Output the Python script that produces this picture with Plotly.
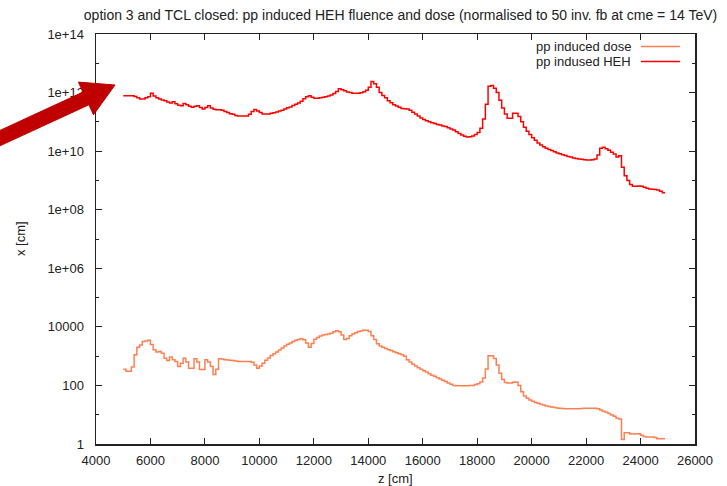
import plotly.graph_objects as go

# ---------------- data ----------------
# bin starts in cm (100 cm bins, 5000 .. 24800), last bin ends at 24900
z_bins = list(range(5000, 24900, 100))
z_end = 24900

# log10 of the plotted values
heh_log10 = [
    11.89, 11.89, 11.89, 11.89, 11.87, 11.82, 11.78, 11.78, 11.82, 11.86,
    11.98, 11.88, 11.82, 11.78, 11.75, 11.72, 11.68, 11.64, 11.69, 11.62,
    11.57, 11.55, 11.63, 11.58, 11.53, 11.50, 11.53, 11.55, 11.49, 11.44,
    11.49, 11.55, 11.47, 11.43, 11.41, 11.41, 11.40, 11.35, 11.32, 11.28,
    11.26, 11.22, 11.20, 11.20, 11.20, 11.20, 11.26, 11.35, 11.42, 11.37,
    11.32, 11.27, 11.27, 11.27, 11.29, 11.31, 11.34, 11.37, 11.40, 11.44,
    11.48, 11.51, 11.56, 11.60, 11.64, 11.70, 11.79, 11.86, 11.89, 11.84,
    11.81, 11.81, 11.82, 11.84, 11.86, 11.88, 11.92, 11.97, 12.04, 12.13,
    12.10, 12.06, 12.02, 12.00, 11.98, 11.98, 11.98, 11.99, 12.03, 12.08,
    12.18, 12.38, 12.30, 12.18, 12.00, 11.90, 11.82, 11.72, 11.65, 11.58,
    11.54, 11.50, 11.46, 11.45, 11.44, 11.40, 11.33, 11.27, 11.20, 11.13,
    11.08, 11.04, 11.00, 10.97, 10.94, 10.91, 10.89, 10.86, 10.84, 10.80,
    10.76, 10.72, 10.66, 10.60, 10.55, 10.51, 10.48, 10.49, 10.52, 10.57,
    10.64, 10.78, 11.10, 11.60, 12.22, 12.24, 12.15, 12.00, 11.74, 11.47,
    11.27, 11.12, 11.12, 11.29, 11.29, 11.18, 11.00, 10.82, 10.68, 10.57,
    10.46, 10.37, 10.28, 10.21, 10.15, 10.10, 10.06, 10.02, 9.98, 9.94,
    9.91, 9.88, 9.85, 9.82, 9.80, 9.77, 9.75, 9.73, 9.72, 9.71,
    9.70, 9.70, 9.71, 9.73, 9.87, 10.10, 10.13, 10.08, 10.03, 9.96,
    9.90, 9.80, 9.84, 9.45, 9.16, 9.00, 8.86, 8.80, 8.80, 8.81,
    8.80, 8.77, 8.73, 8.71, 8.70, 8.69, 8.67, 8.63, 8.58,
]

dose_log10 = [
    2.55, 2.48, 2.48, 2.63, 3.05, 3.30, 3.38, 3.50, 3.52, 3.54,
    3.40, 3.22, 3.14, 3.16, 3.10, 2.93, 2.85, 2.97, 2.88, 2.82,
    2.65, 2.76, 2.93, 2.80, 2.59, 2.59, 2.91, 2.80, 2.54, 2.54,
    2.88, 2.80, 2.65, 2.37, 2.55, 2.91, 2.90, 2.88, 2.87, 2.86,
    2.85, 2.83, 2.82, 2.82, 2.82, 2.82, 2.82, 2.79, 2.70, 2.59,
    2.66, 2.76, 2.86, 2.94, 3.02, 3.08, 3.14, 3.21, 3.28, 3.35,
    3.41, 3.45, 3.50, 3.54, 3.57, 3.59, 3.56, 3.45, 3.30, 3.43,
    3.58, 3.64, 3.69, 3.72, 3.74, 3.76, 3.78, 3.83, 3.87, 3.83,
    3.72, 3.57, 3.60, 3.70, 3.76, 3.80, 3.84, 3.86, 3.88, 3.88,
    3.84, 3.70, 3.57, 3.42, 3.35, 3.30, 3.26, 3.22, 3.19, 3.15,
    3.12, 3.08, 3.05, 3.00, 2.88, 2.80, 2.72, 2.66, 2.60, 2.55,
    2.50, 2.46, 2.40, 2.35, 2.31, 2.26, 2.22, 2.18, 2.13, 2.08,
    2.04, 2.00, 1.99, 1.99, 1.99, 1.99, 1.99, 2.00, 2.00, 2.03,
    2.06, 2.12, 2.25, 2.56, 3.01, 3.01, 2.92, 2.70, 2.42, 2.20,
    2.10, 2.08, 2.08, 2.11, 2.12, 2.00, 1.78, 1.64, 1.56, 1.50,
    1.46, 1.42, 1.39, 1.36, 1.33, 1.30, 1.28, 1.26, 1.25, 1.23,
    1.22, 1.21, 1.20, 1.20, 1.20, 1.20, 1.20, 1.20, 1.21, 1.22,
    1.22, 1.22, 1.22, 1.22, 1.20, 1.16, 1.12, 1.08, 1.04, 0.99,
    0.95, 0.88, 0.85, 0.15, 0.38, 0.38, 0.34, 0.34, 0.35, 0.35,
    0.30, 0.26, 0.24, 0.24, 0.24, 0.22, 0.18, 0.18, 0.18,
]

series_names = ["pp induced dose", "pp indused HEH"]
series_colors = ["#ff7f50", "#ff0000"]

x_ticks = [4000, 6000, 8000, 10000, 12000, 14000, 16000, 18000, 20000, 22000, 24000, 26000]
y_tickvals = [1, 1e2, 1e4, 1e6, 1e8, 1e10, 1e12, 1e14]
y_ticktext = ["1", "100", "10000", "1e+06", "1e+08", "1e+10", "1e+12", "1e+14"]
y_minor = [1e1, 1e3, 1e5, 1e7, 1e9, 1e11, 1e13]

title_text = "option 3 and TCL closed: pp induced HEH fluence and dose (normalised to 50 inv. fb at cme = 14 TeV)"
x_title = "z [cm]"
y_title = "x [cm]"

# ---------------- figure ----------------
W, H = 727, 486
ML, MR, MT, MB = 96, 32, 34, 42
PW, PH = W - ML - MR, H - MT - MB

def px2paper(px, py):
    return (px - ML) / PW, (H - MB - py) / PH

FONT = "Liberation Sans, Arial, sans-serif"
TXT = "#222222"

fig = go.Figure()
for name, color, vals in [(series_names[0], series_colors[0], dose_log10),
                          (series_names[1], series_colors[1], heh_log10)]:
    ys = [10 ** v for v in vals]
    fig.add_trace(go.Scatter(
        x=z_bins + [z_end], y=ys + [ys[-1]],
        mode="lines", line=dict(color=color, width=1.5, shape="hv"),
        name=name, showlegend=False, hoverinfo="skip"))

axis_common = dict(
    showline=True, linecolor="#222222", linewidth=1.5, mirror="ticks",
    ticks="inside", ticklen=6, tickwidth=1, tickcolor="#222222",
    showgrid=False, zeroline=False,
    tickfont=dict(family=FONT, size=13, color=TXT),
)

fig.update_xaxes(range=[4000, 26000], tickvals=x_ticks,
                 ticktext=[str(t) for t in x_ticks], ticklabelstandoff=4,
                 **axis_common)
fig.update_yaxes(type="log", range=[0, 14], tickvals=y_tickvals, ticktext=y_ticktext,
                 ticklabelstandoff=8,
                 minor=dict(tickvals=y_minor, ticks="inside", ticklen=3,
                            tickcolor="#222222", tickwidth=1, showgrid=False),
                 **axis_common)

annotations = []
shapes = []

# manual gnuplot-style legend (text then line sample)
legend_rows_py = [46.5, 61.5]
for name, color, py in zip(series_names, series_colors, legend_rows_py):
    tx, ty = px2paper(633, py)
    annotations.append(dict(x=tx, y=ty, xref="paper", yref="paper", text=name,
                            showarrow=False, xanchor="right", yanchor="middle",
                            font=dict(family=FONT, size=13, color=TXT)))
    x0, y0 = px2paper(641, py)
    x1, _ = px2paper(680, py)
    shapes.append(dict(type="line", xref="paper", yref="paper", x0=x0, x1=x1,
                       y0=y0, y1=y0, line=dict(color=color, width=1.5)))

# axis titles
annotations.append(dict(x=0.5, y=0, xref="paper", yref="paper", text=x_title,
                        showarrow=False, xanchor="center", yanchor="middle", yshift=-34,
                        font=dict(family=FONT, size=13, color=TXT)))
annotations.append(dict(x=0, y=0.5, xref="paper", yref="paper", text=y_title,
                        showarrow=False, xanchor="center", yanchor="middle", xshift=-76,
                        textangle=-90, font=dict(family=FONT, size=13, color=TXT)))

# big red pointer arrow overlay (pixel geometry)
arrow_px = [(115, 85), (93.5, 114.8), (88.9, 104.8), (-18.3, 154.2),
            (-24.1, 141.5), (83.0, 92.1), (78.4, 82.1)]
pts = [px2paper(a, b) for a, b in arrow_px]
path = "M " + " L ".join(f"{x:.5f},{y:.5f}" for x, y in pts) + " Z"
shapes.append(dict(type="path", xref="paper", yref="paper", path=path,
                   fillcolor="#c00000", line=dict(color="#c00000", width=1), layer="above"))

fig.update_layout(
    width=W, height=H,
    margin=dict(l=ML, r=MR, t=MT, b=MB, pad=0),
    paper_bgcolor="white", plot_bgcolor="white",
    title=dict(text=title_text, x=0.5 + 5 / PW, xref="paper", xanchor="center",
               y=1 - 15 / H, yref="container", yanchor="middle",
               font=dict(family=FONT, size=14, color=TXT)),
    annotations=annotations, shapes=shapes,
    showlegend=False,
)

fig.write_html("out.html",
               config={"displayModeBar": False, "staticPlot": True},
               post_script="document.body.style.margin='0';document.body.style.overflow='hidden';")
